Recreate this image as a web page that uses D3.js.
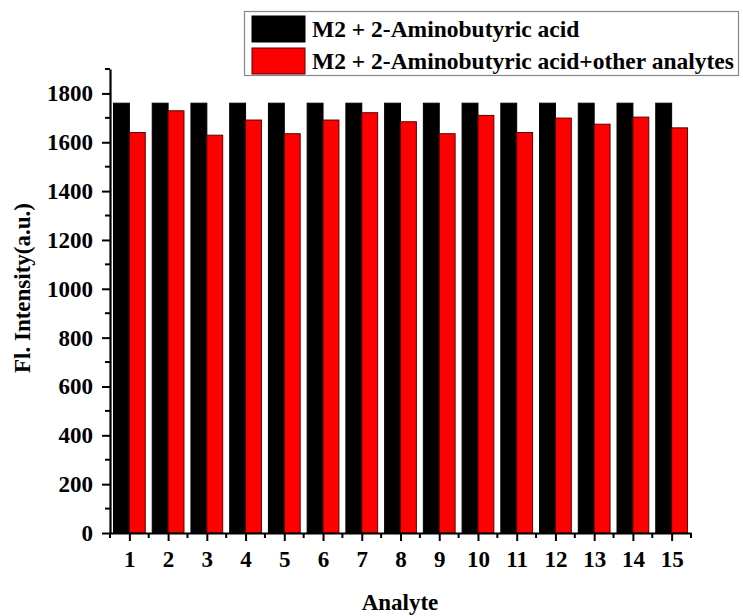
<!DOCTYPE html>
<html>
<head>
<meta charset="utf-8">
<script src="https://cdn.jsdelivr.net/npm/d3@7"></script>
<style>
  html, body { margin: 0; padding: 0; background: #fff; }
  svg { display: block; }
  svg text { font-family: "Liberation Serif", Tinos, "Times New Roman", "DejaVu Serif", serif !important; font-weight: bold; fill: #000; }
</style>
</head>
<body>
<svg id="chart" width="743" height="616"></svg>
<script>
// Analyte indices on the x axis
const analytes = [1, 2, 3, 4, 5, 6, 7, 8, 9, 10, 11, 12, 13, 14, 15];
// Fluorescence of M2 + 2-aminobutyric acid alone
const blankSeries = [1760, 1760, 1760, 1760, 1760, 1760, 1760, 1760, 1760, 1760, 1760, 1760, 1760, 1760, 1760];
// Fluorescence with the other analytes added
const mixedSeries = [1640, 1729, 1629, 1691, 1635, 1691, 1721, 1684, 1635, 1710, 1640, 1699, 1674, 1703, 1659];
const yMajorTicks = [0, 200, 400, 600, 800, 1000, 1200, 1400, 1600, 1800];
const yMinorTicks = [100, 300, 500, 700, 900, 1100, 1300, 1500, 1700, 1900];
const xMinorTicks = [0.5, 1.5, 2.5, 3.5, 4.5, 5.5, 6.5, 7.5, 8.5, 9.5, 10.5, 11.5, 12.5, 13.5, 14.5, 15.5];
const legendLabels = ["M2 + 2-Aminobutyric acid", "M2 + 2-Aminobutyric acid+other analytes"];
const seriesColors = ["#000000", "#ff0000"];

const svg = d3.select("#chart");
const plotLeft = 110, plotRight = 691, plotTop = 69, plotBottom = 533;

const x = d3.scaleLinear().domain([0.5, 15.5]).range([plotLeft, plotRight]);
const y = d3.scaleLinear().domain([0, 1900]).range([plotBottom, plotTop]);
const barW = (x(2) - x(1)) * 0.41;

// Bars: black to the left of each tick, red to the right
const series = [blankSeries, mixedSeries];
series.forEach((vals, si) => {
  svg.append("g").selectAll("rect")
    .data(analytes)
    .join("rect")
    .attr("x", (d) => si === 0 ? x(d) - barW : x(d))
    .attr("y", (d, i) => y(vals[i]))
    .attr("width", barW)
    .attr("height", (d, i) => y(0) - y(vals[i]))
    .attr("fill", seriesColors[si])
    .attr("stroke", si === 0 ? "#000" : "#5a0000")
    .attr("stroke-width", 1);
});

// Y axis with major and minor ticks
const yAxis = svg.append("g").attr("transform", `translate(${plotLeft},0)`);
yAxis.call(d3.axisLeft(y).tickValues(yMajorTicks).tickFormat(d3.format("d"))
  .tickSize(8).tickPadding(9).tickSizeOuter(0));
yAxis.call(g => g.selectAll(".minor").data(yMinorTicks).join("line")
  .attr("class", "minor").attr("x1", 0).attr("x2", -5)
  .attr("y1", d => y(d)).attr("y2", d => y(d)).attr("stroke", "#000").attr("stroke-width", 2));

// X axis with major and minor ticks
const xAxis = svg.append("g").attr("transform", `translate(0,${plotBottom})`);
xAxis.call(d3.axisBottom(x).tickValues(analytes).tickFormat(d3.format("d"))
  .tickSize(8).tickPadding(10).tickSizeOuter(0));
xAxis.call(g => g.selectAll(".minor").data(xMinorTicks).join("line")
  .attr("class", "minor").attr("y1", 0).attr("y2", 5)
  .attr("x1", d => x(d)).attr("x2", d => x(d)).attr("stroke", "#000").attr("stroke-width", 2));

svg.selectAll(".domain").attr("stroke", "#000").attr("stroke-width", 2.2);
svg.selectAll(".tick line").attr("stroke", "#000").attr("stroke-width", 2);
svg.selectAll("g").attr("font-family", null).attr("font-size", null);
svg.selectAll(".tick text")
  .style("font-size", "23px")
  .attr("fill", "#000");

// Axis titles
svg.append("text")
  .attr("x", 400).attr("y", 610)
  .attr("text-anchor", "middle")
  .style("font-size", "23px")
  .text("Analyte");

svg.append("text")
  .attr("transform", "translate(30,288) rotate(-90)")
  .attr("text-anchor", "middle")
  .style("font-size", "23px")
  .text("Fl. Intensity(a.u.)");

// Legend
const legend = svg.append("g");
legend.append("rect")
  .attr("x", 244.5).attr("y", 11.5).attr("width", 494).attr("height", 64)
  .attr("fill", "#fff").attr("stroke", "#888").attr("stroke-width", 1.2);
legendLabels.forEach((label, i) => {
  const yy = 16 + i * 32;
  legend.append("rect")
    .attr("x", 252).attr("y", yy).attr("width", 53).attr("height", 26)
    .attr("fill", seriesColors[i]).attr("stroke", i === 0 ? "#000" : "#5a0000").attr("stroke-width", 1);
  legend.append("text")
    .attr("x", 312).attr("y", yy + 21)
    .style("font-size", "23.5px")
    .text(label);
});
</script>
</body>
</html>
